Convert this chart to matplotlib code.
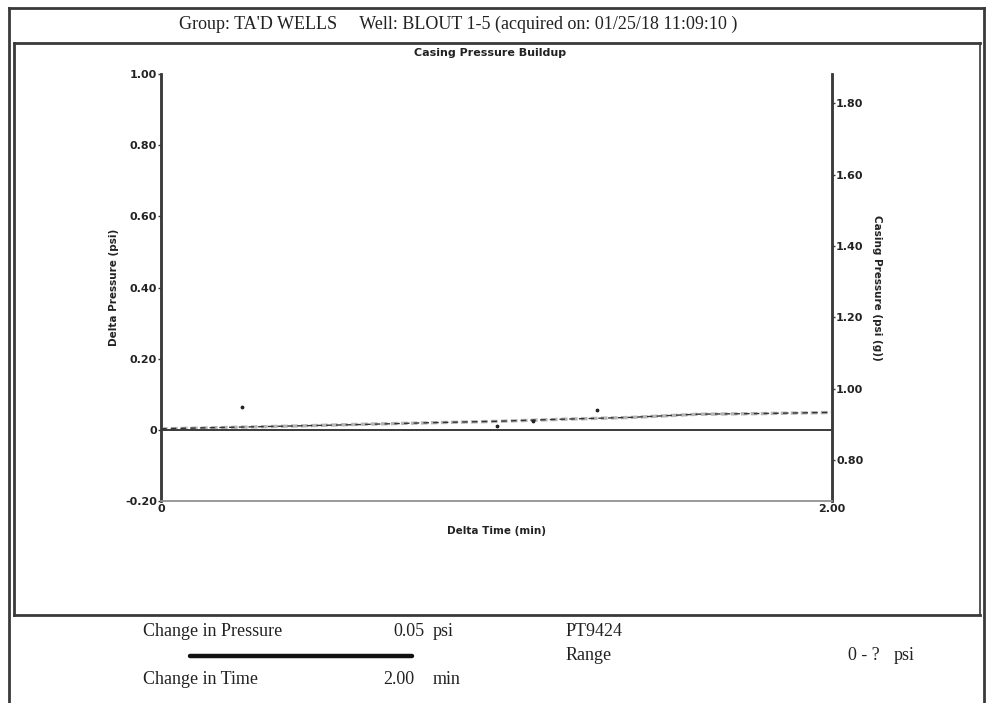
import matplotlib
matplotlib.use("Agg")
import matplotlib.pyplot as plt
from matplotlib.lines import Line2D

# ---- data ----
time_min = [0.0, 0.2, 0.4, 0.6, 0.8, 1.0, 1.2, 1.4, 1.6, 1.8, 2.0]
delta_psi = [0.003, 0.007, 0.011, 0.015, 0.020, 0.024, 0.030, 0.035, 0.044, 0.046, 0.049]
casing_psig = [0.888, 0.892, 0.896, 0.901, 0.905, 0.909, 0.915, 0.920, 0.929, 0.931, 0.934]
raw_t = [0.24, 1.00, 1.11, 1.30]
raw_dp = [0.065, 0.012, 0.024, 0.056]

left_ticks = [-0.20, 0, 0.20, 0.40, 0.60, 0.80, 1.00]
left_labels = ["-0.20", "0", "0.20", "0.40", "0.60", "0.80", "1.00"]
right_ticks = [0.80, 1.00, 1.20, 1.40, 1.60, 1.80]
right_labels = ["0.80", "1.00", "1.20", "1.40", "1.60", "1.80"]
x_ticks = [0, 2.0]
x_labels = ["0", "2.00"]

header = "Group: TA'D WELLS     Well: BLOUT 1-5 (acquired on: 01/25/18 11:09:10 )"
chart_title = "Casing Pressure Buildup"

W, H = 992, 703
fig = plt.figure(figsize=(W / 100, H / 100), dpi=100)
fig.patch.set_facecolor("white")

def fx(px):
    return px / W

def fy(py):
    return 1 - py / H

dark = "#3a3a3a"
sans = ["DejaVu Sans"]
serif = ["Liberation Serif", "DejaVu Serif"]

# ---- main axes ----
ax = fig.add_axes([fx(161), fy(501), fx(832) - fx(161), fy(74) - fy(501)])
ax.set_xlim(0, 2.0)
ax.set_ylim(-0.2, 1.0)

ax2 = ax.twinx()
ax2.set_ylim(0.686, 1.882)
ax2.plot(time_min, casing_psig, color="#b5b5b5", lw=2.4, dashes=(2, 1), zorder=3)

ax.set_zorder(ax2.get_zorder() + 1)
ax.axhline(0, color=dark, lw=1.4, zorder=2)
ax.plot(time_min, delta_psi, color="#333333", lw=1.0, dashes=(4, 3), zorder=4)
ax.scatter(raw_t, raw_dp, s=3, color="#222222", zorder=5)

for a in (ax, ax2):
    a.spines["top"].set_visible(False)
    a.spines["left"].set_color(dark)
    a.spines["right"].set_color(dark)
    a.spines["left"].set_linewidth(1.8)
    a.spines["right"].set_linewidth(1.8)
    a.spines["bottom"].set_color("#9a9a9a")
    a.spines["bottom"].set_linewidth(1.2)
    a.patch.set_visible(False)

ax.set_yticks(left_ticks)
ax.set_yticklabels(left_labels)
ax.set_xticks(x_ticks)
ax.set_xticklabels(x_labels)
ax2.set_yticks(right_ticks)
ax2.set_yticklabels(right_labels)

ax.tick_params(axis="y", direction="out", length=2, width=1, color=dark, pad=1)
ax.tick_params(axis="x", direction="out", length=0, pad=2)
ax2.tick_params(axis="y", direction="out", length=2, width=1, color=dark, pad=1)
for lab in ax.get_yticklabels() + ax.get_xticklabels() + ax2.get_yticklabels():
    lab.set_fontfamily(sans)
    lab.set_fontweight("bold")
    lab.set_fontsize(8)
    lab.set_color("#222222")

ax.set_xlabel("Delta Time (min)", fontfamily=sans, fontweight="bold", fontsize=7.5, labelpad=9, color="#222222")
ax.set_ylabel("Delta Pressure (psi)", fontfamily=sans, fontweight="bold", fontsize=7.5, labelpad=4, color="#222222")
ax2.set_ylabel("Casing Pressure (psi (g))", fontfamily=sans, fontweight="bold", fontsize=7.5, rotation=270,
               labelpad=13, color="#222222")

# ---- frames ----
def hline(x0, x1, y, lw=2.0, c=dark):
    fig.add_artist(Line2D([fx(x0), fx(x1)], [fy(y), fy(y)], color=c, lw=lw))

def vline(x, y0, y1, lw=2.0, c=dark):
    fig.add_artist(Line2D([fx(x), fx(x)], [fy(y0), fy(y1)], color=c, lw=lw))

hline(9, 984, 8)
vline(9, 8, 703)
vline(984, 8, 703)
hline(14, 980, 43)
hline(14, 980, 615)
vline(14, 43, 615)
vline(980, 43, 615, lw=1.2)

# ---- texts ----
fig.text(fx(458), fy(24), header, fontfamily=serif, fontsize=13, ha="center", va="center", color="#222222")
fig.text(fx(490), fy(53), chart_title, fontfamily=sans, fontweight="bold", fontsize=8,
         ha="center", va="center", color="#222222")

bt = dict(fontfamily=serif, fontsize=13, va="center", color="#222222")
fig.text(fx(143), fy(632), "Change in Pressure", ha="left", **bt)
fig.text(fx(425), fy(632), "0.05", ha="right", **bt)
fig.text(fx(433), fy(632), "psi", ha="left", **bt)
fig.text(fx(143), fy(679), "Change in Time", ha="left", **bt)
fig.text(fx(414), fy(679), "2.00", ha="right", **bt)
fig.text(fx(433), fy(679), "min", ha="left", **bt)
fig.text(fx(566), fy(632), "PT9424", ha="left", **bt)
fig.text(fx(566), fy(656), "Range", ha="left", **bt)
fig.text(fx(880), fy(656), "0 - ?", ha="right", **bt)
fig.text(fx(894), fy(656), "psi", ha="left", **bt)
fig.add_artist(Line2D([fx(190), fx(412)], [fy(656), fy(656)], color="#111111", lw=3.2, solid_capstyle="round"))

fig.savefig("out.png", dpi=100, facecolor="white")
